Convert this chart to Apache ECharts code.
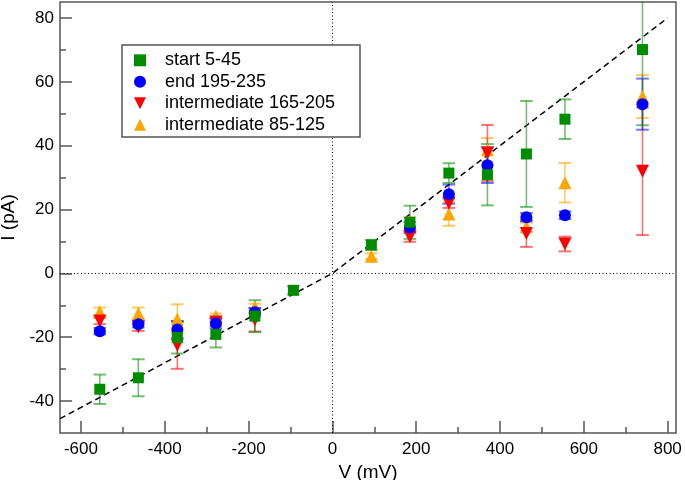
<!DOCTYPE html>
<html><head><meta charset="utf-8">
<script src="https://cdn.jsdelivr.net/npm/echarts@6/dist/echarts.min.js"></script>
<style>html,body{margin:0;padding:0;background:#fff}#c{width:685px;height:480px}</style>
</head><body><div id="c"></div>
<script>
// ---- data (V in mV, I in pA, symmetric error) ----
const startV = [-555, -463, -370, -278, -185, -93, 93, 185, 278, 370, 463, 555, 740];
const startI = [-36.3, -32.7, -20.1, -19.1, -13.4, -5.3, 8.9, 16.0, 31.4, 30.9, 37.4, 48.3, 70.1];
const startErr = [4.6, 5.8, 5.0, 4.1, 5.0, 1.3, 1.6, 5.2, 3.1, 9.6, 16.6, 6.2, 23.7];

const endV = [-555, -463, -370, -278, -185, 185, 278, 370, 463, 555, 740];
const endI = [-18.1, -15.9, -17.6, -15.7, -12.2, 14.4, 24.8, 33.9, 17.6, 18.2, 53.0];
const endErr = [1.0, 1.0, 2.7, 1.5, 1.3, 1.7, 3.0, 5.6, 1.3, 1.2, 8.0];

const mid165V = [-555, -463, -370, -278, -185, 185, 278, 370, 463, 555, 740];
const mid165I = [-14.9, -16.8, -22.5, -15.2, -14.5, 11.5, 22.0, 37.7, 12.5, 9.2, 32.0];
const mid165Err = [1.0, 1.2, 7.4, 1.2, 3.7, 1.6, 1.5, 8.8, 4.2, 2.3, 20.0];

const mid85V = [-555, -463, -370, -278, -185, 93, 185, 278, 370, 463, 555, 740];
const mid85I = [-12.0, -12.6, -14.3, -13.4, -10.5, 5.4, 15.5, 18.6, 38.7, 14.6, 28.4, 55.4];
const mid85Err = [1.3, 1.9, 4.6, 0.8, 1.0, 0.9, 2.1, 3.7, 3.7, 1.3, 6.2, 6.7];

const fitV = [-650, 0, 800];
const fitI = [-45.5, 0, 80];

const xMajorTicks = [-600, -400, -200, 0, 200, 400, 600, 800];
const xMinorTicks = [-500, -300, -100, 100, 300, 500, 700];
const yMajorTicks = [-40, -20, 0, 20, 40, 60, 80];
const yMinorTicks = [-30, -10, 10, 30, 50, 70];

const names = ['start 5-45', 'end 195-235', 'intermediate 165-205', 'intermediate 85-125'];
// ---------------------------------------------------

const FONT = '"Liberation Sans", Arial, Helvetica, sans-serif';
const AX = '#555';

function pts(V, I) { return V.map((v, i) => [v, I[i]]); }
function errPts(V, I, E) { return V.map((v, i) => [v, I[i], E[i]]); }

function errRender(color) {
  return function (params, api) {
    const x = api.value(0), y = api.value(1), e = api.value(2);
    const hi = api.coord([x, y + e]);
    const lo = api.coord([x, y - e]);
    const cs = params.coordSys;
    const top = cs.y, bot = cs.y + cs.height;
    const half = 6.3;
    const yT = Math.max(hi[1], top), yB = Math.min(lo[1], bot);
    const ch = [{
      type: 'line', shape: { x1: hi[0], y1: yT, x2: lo[0], y2: yB },
      style: { stroke: color, lineWidth: 1.6 }
    }];
    if (hi[1] >= top) ch.push({ type: 'line', shape: { x1: hi[0] - half, y1: hi[1], x2: hi[0] + half, y2: hi[1] }, style: { stroke: color, lineWidth: 2 } });
    if (lo[1] <= bot) ch.push({ type: 'line', shape: { x1: lo[0] - half, y1: lo[1], x2: lo[0] + half, y2: lo[1] }, style: { stroke: color, lineWidth: 2 } });
    return { type: 'group', children: ch };
  };
}

const DOWN_TRI = 'path://M0,0 L10,0 L5,10 Z';
const sets = [
  // drawn bottom -> top
  { name: names[3], V: mid85V, I: mid85I, E: mid85Err, color: '#ffa500', err: 'rgba(255,165,0,0.6)', symbol: 'triangle', size: 13 },
  { name: names[2], V: mid165V, I: mid165I, E: mid165Err, color: '#ff0000', err: 'rgba(255,0,0,0.55)', symbol: DOWN_TRI, size: 13 },
  { name: names[1], V: endV, I: endI, E: endErr, color: '#0000ff', err: 'rgba(0,0,255,0.55)', symbol: 'circle', size: 12 },
  { name: names[0], V: startV, I: startI, E: startErr, color: '#008c00', err: 'rgba(0,140,0,0.55)', symbol: 'rect', size: 11 }
];

const series = [];
series.push({
  type: 'line', name: 'fit', data: pts(fitV, fitI), symbol: 'none', silent: true,
  lineStyle: { color: '#000', width: 1.5, type: [6, 4] }, z: 1,
  markLine: {
    silent: true, symbol: 'none', label: { show: false },
    lineStyle: { color: '#000', width: 1, type: [1, 2.5] },
    data: [{ xAxis: 0 }, { yAxis: 0 }]
  }
});
sets.forEach((s) => {
  series.push({
    type: 'custom', name: s.name + ' err', renderItem: errRender(s.err),
    data: errPts(s.V, s.I, s.E), encode: { x: 0, y: 1 }, z: 2, silent: true
  });
});
sets.forEach((s, k) => {
  series.push({
    type: 'scatter', name: s.name, data: pts(s.V, s.I), symbol: s.symbol, symbolSize: s.size,
    itemStyle: { color: s.color, opacity: 1 }, z: 3 + k
  });
});

const legendIcons = { 'start 5-45': 'rect', 'end 195-235': 'circle', 'intermediate 165-205': DOWN_TRI, 'intermediate 85-125': 'triangle' };

const chart = echarts.init(document.getElementById('c'), null, { renderer: 'canvas' });
chart.setOption({
  animation: false,
  backgroundColor: '#fff',
  grid: { left: 60, right: 9, top: 2, bottom: 47, show: true, borderColor: AX, borderWidth: 1.5, backgroundColor: 'transparent', containLabel: false, outerBoundsMode: 'none' },
  xAxis: [{
    type: 'value', min: -650, max: 820, position: 'bottom',
    name: 'V (mV)', nameLocation: 'middle', nameGap: 27,
    nameTextStyle: { fontFamily: FONT, fontSize: 19, color: '#000' },
    axisLine: { show: false, onZero: false },
    axisTick: { show: true, inside: true, length: 12, customValues: xMajorTicks, lineStyle: { color: AX, width: 1.5 } },
    axisLabel: { customValues: xMajorTicks, fontFamily: FONT, fontSize: 17, color: '#000', margin: 8 },
    splitLine: { show: false }
  }, {
    type: 'value', min: -650, max: 820, position: 'bottom',
    axisLine: { show: false, onZero: false },
    axisTick: { show: true, inside: true, length: 6, customValues: xMinorTicks, lineStyle: { color: AX, width: 1.5 } },
    axisLabel: { show: false }, splitLine: { show: false }
  }],
  yAxis: [{
    type: 'value', min: -50, max: 85, position: 'left',
    name: 'I (pA)', nameLocation: 'middle', nameGap: 39, nameRotate: 90,
    nameTextStyle: { fontFamily: FONT, fontSize: 19, color: '#000' },
    axisLine: { show: false, onZero: false },
    axisTick: { show: true, inside: true, length: 12, customValues: yMajorTicks, lineStyle: { color: AX, width: 1.5 } },
    axisLabel: { customValues: yMajorTicks, fontFamily: FONT, fontSize: 17, color: '#000', margin: 6 },
    splitLine: { show: false }
  }, {
    type: 'value', min: -50, max: 85, position: 'left',
    axisLine: { show: false, onZero: false },
    axisTick: { show: true, inside: true, length: 6, customValues: yMinorTicks, lineStyle: { color: AX, width: 1.5 } },
    axisLabel: { show: false }, splitLine: { show: false }
  }],
  graphic: [{
    type: 'rect', z: 100,
    shape: { x: 122, y: 45, width: 238, height: 92 },
    style: { fill: '#fff', stroke: AX, lineWidth: 1.5 }
  }],
  legend: {
    z: 110, orient: 'vertical', left: 134, top: 50.3, padding: 0,
    itemWidth: 12, itemHeight: 12, itemGap: 1.5,
    data: names.map(n => ({ name: n, icon: legendIcons[n] })),
    textStyle: { fontFamily: FONT, fontSize: 18, color: '#000', lineHeight: 20, padding: [0, 0, 0, 14] },
    selectedMode: false
  },
  series: series
});
</script></body></html>
